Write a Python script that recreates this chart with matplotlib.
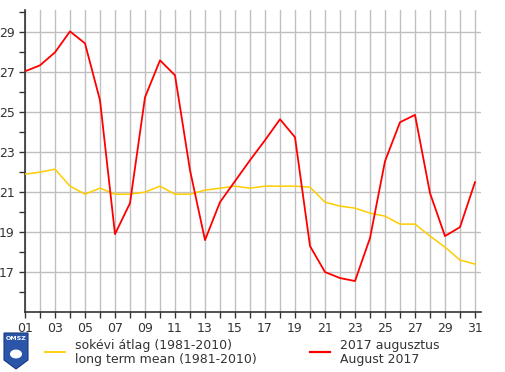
import matplotlib
matplotlib.use('Agg')
from matplotlib import pyplot as plt
from matplotlib.patches import Polygon
from matplotlib.ticker import MultipleLocator, FixedLocator

days = list(range(1, 32))
aug2017 = [27.05, 27.35, 28.0, 29.05, 28.45, 25.6, 18.9, 20.45, 25.75, 27.6,
           26.85, 22.1, 18.6, 20.5, 21.55, 22.6, 23.6, 24.65, 23.75, 18.3,
           17.0, 16.7, 16.55, 18.7, 22.55, 24.5, 24.87, 20.95, 18.8, 19.25, 21.5]
longterm = [21.9, 22.0, 22.15, 21.3, 20.9, 21.2, 20.9, 20.9, 21.0, 21.3,
            20.9, 20.9, 21.1, 21.2, 21.3, 21.2, 21.3, 21.3, 21.3, 21.25,
            20.5, 20.3, 20.2, 19.95, 19.8, 19.4, 19.4, 18.8, 18.25, 17.6, 17.4]
xlabels = ['%02d' % d for d in range(1, 32, 2)]

plt.rcParams['font.family'] = ['DejaVu Sans']
fig = plt.figure(figsize=(5.05, 3.72), dpi=100)
ax = fig.add_axes([25/505, 1-312/372, (481-25)/505, (312-10)/372])

ax.plot(days, longterm, color='#ffcc00', lw=1.1, zorder=3)
ax.plot(days, aug2017, color='#ff0000', lw=1.3, zorder=4)

ax.set_xlim(1, 31.4)
ax.set_ylim(15, 30.12)
ax.xaxis.set_major_locator(FixedLocator(range(1, 32, 2)))
ax.set_xticklabels(xlabels)
ax.xaxis.set_minor_locator(FixedLocator(range(2, 32, 2)))
ax.yaxis.set_major_locator(FixedLocator(range(17, 30, 2)))
ax.yaxis.set_minor_locator(FixedLocator(range(16, 31, 2)))
ax.tick_params(which='both', length=4, width=1, color='#333333', labelsize=9,
               labelcolor='#333333', direction='out')
ax.grid(which='major', color='#c0c0c0', lw=1)
ax.grid(which='minor', axis='x', color='#c0c0c0', lw=1)
ax.set_axisbelow(True)
for s in ['top', 'right']:
    ax.spines[s].set_visible(False)
for s in ['left', 'bottom']:
    ax.spines[s].set_color('#333333')
    ax.spines[s].set_linewidth(1.2)

# legend
W, H = 505, 372
def fx(px): return px / W
def fy(py): return 1 - py / H
fig.add_artist(plt.Line2D([fx(45), fx(65)], [fy(352), fy(352)], color='#ffcc00', lw=1.3))
fig.text(fx(75), fy(345), 'sokévi átlag (1981-2010)', fontsize=9, color='#333333', va='center')
fig.text(fx(75), fy(359), 'long term mean (1981-2010)', fontsize=9, color='#333333', va='center')
fig.add_artist(plt.Line2D([fx(310), fx(330)], [fy(352), fy(352)], color='#ff0000', lw=1.6))
fig.text(fx(340), fy(345), '2017 augusztus', fontsize=9, color='#333333', va='center')
fig.text(fx(340), fy(359), 'August 2017', fontsize=9, color='#333333', va='center')

# OMSZ logo
shield = Polygon([(fx(4), fy(333)), (fx(28), fy(333)), (fx(28), fy(360)),
                  (fx(16), fy(369)), (fx(4), fy(360))], closed=True,
                 facecolor='#2a55a8', edgecolor='#1a3a80', lw=0.8)
fig.add_artist(shield)
fig.text(fx(16), fy(339), 'OMSZ', fontsize=4.5, color='white', ha='center', va='center', weight='bold')
fig.add_artist(plt.Circle((fx(16), fy(354)), 0.012, transform=fig.transFigure,
                          facecolor='white', edgecolor='none'))

plt.savefig('out.png', dpi=100)
